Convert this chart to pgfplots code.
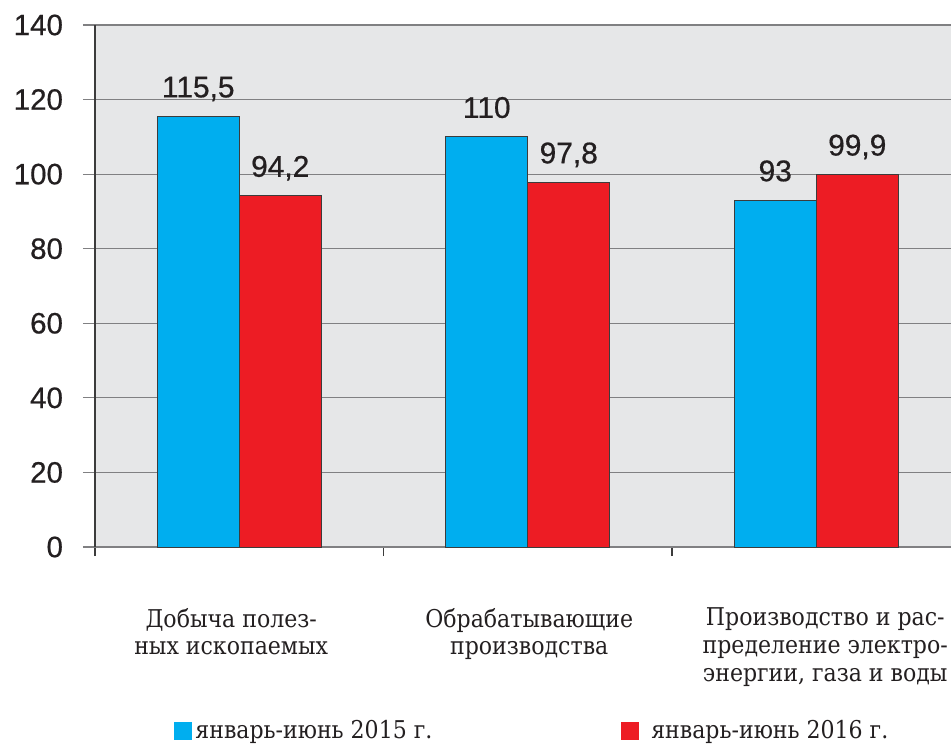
\documentclass[border=0pt]{standalone}
\usepackage{fontspec}
\setmainfont{DejaVu Serif Condensed}
\newfontfamily\arial[FakeBold=0.6]{Liberation Sans}
\usepackage{pgfplots}
\pgfplotsset{compat=1.18}
\definecolor{bgc}{RGB}{230,231,232}
\definecolor{cblue}{RGB}{0,174,239}
\definecolor{cred}{RGB}{237,28,36}
\definecolor{gridc}{RGB}{128,128,130}
\definecolor{txt}{RGB}{35,31,32}
\definecolor{edge}{RGB}{60,60,60}
\begin{document}
\begin{tikzpicture}
\begin{axis}[
  scale only axis, width=428bp, height=261bp,
  xmin=-0.5, xmax=2.467, ymin=0, ymax=140,
  ytick={0,20,...,140},
  xtick={-0.028,1.005,2.031},
  xticklabels={{Добыча полез-\\ных ископаемых},{Обрабатывающие\\производства},{Производство и рас-\\пределение электро-\\энергии, газа и воды}},
  minor xtick={-0.5,0.5,1.5},
  axis x line*=bottom, axis y line*=left,
  x axis line style={draw=gridc, line width=0.6bp},
  y axis line style={draw=edge, line width=0.6bp},
  ymajorgrids, grid style={draw=gridc, line width=0.6bp},
  tick align=outside,
  major tick length=6bp, minor tick length=4.5bp,
  major x tick style={draw=none},
  minor x tick style={draw=edge, line width=0.6bp},
  major y tick style={draw=gridc, line width=0.6bp},
  axis background/.style={fill=bgc},
  ybar=0pt, bar width=41bp,
  /pgf/number format/assume math mode=true,
  /pgf/number format/use comma,
  yticklabel style={font=\arial\fontsize{14.8}{17}\selectfont, text=txt, xshift=-6.5bp},
  xticklabel style={font=\fontsize{12.3}{14}\selectfont, align=center, anchor=north, text=txt, yshift=-21bp},
  nodes near coords,
  every node near coord/.append style={font=\arial\fontsize{15}{17}\selectfont, text=txt, anchor=base, yshift=9.5bp},
  every axis plot/.append style={draw=edge, line width=0.5bp},
  legend columns=2,
  legend style={at={(0.0923,-0.3525)}, anchor=west, draw=none, fill=none, inner sep=0pt,
    font=\fontsize{12.3}{14.5}\selectfont, text=txt,
    nodes={inner sep=1.5bp},
    /tikz/every even column/.append style={column sep=93bp}},
  legend image code/.code={\fill[#1, draw=none] (0bp,-4.5bp) rectangle (9bp,4.5bp);},
]
\addplot[fill=cblue] coordinates {(0,115.5) (1,110) (2,93)};
\addplot[fill=cred] coordinates {(0,94.2) (1,97.8) (2,99.9)};
\legend{январь-июнь 2015 г., \hspace{4.5bp}январь-июнь 2016 г.}
\end{axis}
\pgfresetboundingbox
\path (-47.5bp,-98.5bp) rectangle (428bp,273.5bp);
\end{tikzpicture}
\end{document}
